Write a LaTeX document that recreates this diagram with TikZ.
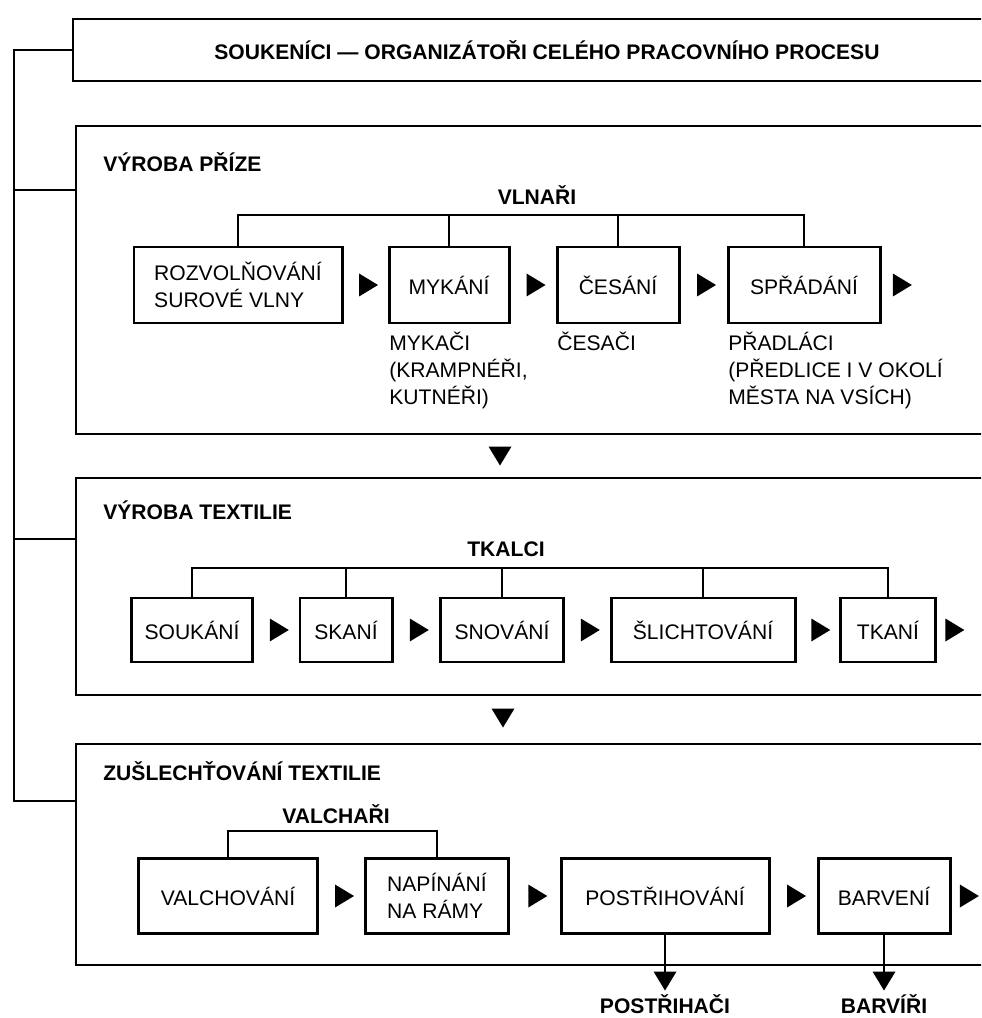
\documentclass[tikz,border=0pt]{standalone}
\usepackage{fontspec}
\setmainfont{Liberation Sans}
\usetikzlibrary{calc,positioning,shapes.geometric}
\newcommand{\boxfont}{\fontsize{12}{15.3}\selectfont}
\tikzset{%
	panel/.style   = {draw, rectangle, line width=1.1pt, anchor=north west, inner sep=0pt},
	stage/.style   = {draw, rectangle, line width=1.7pt, align=left, inner sep=0pt},
	heading/.style = {font=\boxfont\bfseries, anchor=west, inner sep=0pt},
	guild/.style   = {font=\boxfont\bfseries, inner sep=0pt},
	workers/.style = {align=left, anchor=north west, inner sep=0pt},
	link/.style    = {line width=0.7pt},
	tri/.style     = {isosceles triangle, isosceles triangle stretches, fill, inner sep=0pt, minimum width=4.6mm, minimum height=3.8mm},
	tridown/.style = {tri, shape border rotate=-90},
}
\begin{document}
\begin{tikzpicture}[x=0.2mm,y=-0.2mm,font=\boxfont]
	\useasboundingbox (0,0) rectangle (981,1018);
	\clip (0,0) rectangle (981,1018);
	
	% frames
	\node[panel, minimum width=189.6mm, minimum height=12.4mm, font=\boxfont\bfseries] (soukenici) at (72,18) {SOUKENÍCI --- ORGANIZÁTOŘI CELÉHO PRACOVNÍHO PROCESU};
	\node[panel, minimum width=200mm, minimum height=61.6mm] (priz) at (75,125) {};
	\node[panel, minimum width=200mm, minimum height=43.4mm] (text) at (75,477) {};
	\node[panel, minimum width=200mm, minimum height=44.2mm] (zusl) at (75,743) {};
	
	\draw[link] (soukenici.west) -| (14,801) -- (zusl.west |- 0,801);
	\draw[link] (14,190) -- (priz.west |- 0,190);
	\draw[link] (14,539) -- (text.west |- 0,539);
	
	\node[tridown] (down1) at (500,453) {};
	\node[tridown] (down2) at (503,715) {};
	
	% vyroba prize
	\node[heading] (h1) at (103,162) {VÝROBA PŘÍZE};
	\node[guild] (vlnari) at (537,195) {VLNAŘI};
	\node[stage, minimum width=41.6mm, minimum height=15.2mm] (rozv) at (238,285) {ROZVOLŇOVÁNÍ\\SUROVÉ VLNY};
	\node[stage, minimum width=24mm, minimum height=15.2mm] (myk) at (449,285) {MYKÁNÍ};
	\node[stage, minimum width=24.4mm, minimum height=15.2mm] (ces) at (618,285) {ČESÁNÍ};
	\node[stage, minimum width=30.4mm, minimum height=15.2mm] (spr) at (804,285) {SPŘÁDÁNÍ};
	\node[tri] at ($(rozv.east)!0.5!(myk.west)$) {};
	\node[tri] at ($(myk.east)!0.5!(ces.west)$) {};
	\node[tri] at ($(ces.east)!0.5!(spr.west)$) {};
	\node[tri, right=2.2mm of spr] {};
	\coordinate (vl) at (0,215);
	\draw[link] (rozv.north) |- (spr.north |- vl) -- (spr.north);
	\draw[link] (myk.north) -- (myk.north |- vl);
	\draw[link] (ces.north) -- (ces.north |- vl);
	\node[workers] (mykaci) at (389,332) {MYKAČI\\(KRAMPNÉŘI,\\KUTNÉŘI)};
	\node[workers] (cesaci) at (557,332) {ČESAČI};
	\node[workers] (pradlaci) at (728,332) {PŘADLÁCI\\(PŘEDLICE I V OKOLÍ\\MĚSTA NA VSÍCH)};
	
	% vyroba textilie
	\node[heading] (h2) at (103,510) {VÝROBA TEXTILIE};
	\node[guild] (tkalci) at (506,549) {TKALCI};
	\node[stage, minimum width=24.2mm, minimum height=12.8mm] (souk) at (192,630) {SOUKÁNÍ};
	\node[stage, minimum width=18.4mm, minimum height=12.8mm] (skani) at (346,630) {SKANÍ};
	\node[stage, minimum width=24.6mm, minimum height=12.8mm] (snov) at (502,630) {SNOVÁNÍ};
	\node[stage, minimum width=36.8mm, minimum height=12.8mm] (slich) at (703,630) {ŠLICHTOVÁNÍ};
	\node[stage, minimum width=19mm, minimum height=12.8mm] (tkani) at (888,630) {TKANÍ};
	\node[tri] at ($(souk.east)!0.5!(skani.west)$) {};
	\node[tri] at ($(skani.east)!0.5!(snov.west)$) {};
	\node[tri] at ($(snov.east)!0.5!(slich.west)$) {};
	\node[tri] at ($(slich.east)!0.5!(tkani.west)$) {};
	\node[tri, right=1.6mm of tkani] {};
	\coordinate (tk) at (0,568);
	\draw[link] (souk.north) |- (tkani.north |- tk) -- (tkani.north);
	\foreach \n in {skani,snov,slich}
		\draw[link] (\n.north) -- (\n.north |- tk);
	
	% zuslechtovani
	\node[heading] (h3) at (103,771) {ZUŠLECHŤOVÁNÍ TEXTILIE};
	\node[guild] (valchari) at (336,814) {VALCHAŘI};
	\node[stage, minimum width=35.8mm, minimum height=15mm] (valch) at (228,896) {VALCHOVÁNÍ};
	\node[stage, minimum width=28.6mm, minimum height=15mm] (napin) at (437,896) {NAPÍNÁNÍ\\NA RÁMY};
	\node[stage, minimum width=41.6mm, minimum height=15mm] (postr) at (665,896) {POSTŘIHOVÁNÍ};
	\node[stage, minimum width=26.4mm, minimum height=15mm] (barv) at (884,896) {BARVENÍ};
	\node[tri] at ($(valch.east)!0.5!(napin.west)$) {};
	\node[tri] at ($(napin.east)!0.5!(postr.west)$) {};
	\node[tri] at ($(postr.east)!0.5!(barv.west)$) {};
	\node[tri, right=1.6mm of barv] {};
	\draw[link] (valch.north) |- (napin.north |- 0,831) -- (napin.north);
	
	\node[tridown] (postrtip) at (665,978) {};
	\node[tridown] (barvtip) at (884,978) {};
	\draw[link] (postr.south) -- (postrtip.center);
	\draw[link] (barv.south) -- (barvtip.center);
	\node[guild] (postrihaci) at (665,1004) {POSTŘIHAČI};
	\node[guild] (barviri) at (884,1004) {BARVÍŘI};
	
\end{tikzpicture}
\end{document}
